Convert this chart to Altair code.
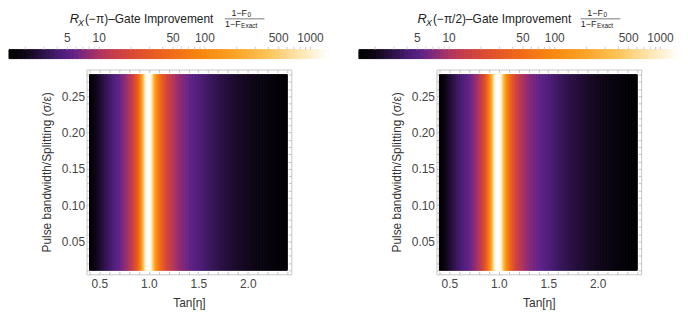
import altair as alt
import pandas as pd
import numpy as np

FONT = "Liberation Sans"

# ---- data ----
tan_left = [0.40, 0.42, 0.44, 0.46, 0.48, 0.50, 0.52, 0.54, 0.56, 0.58, 0.60, 0.62, 0.64, 0.66,
            0.68, 0.70, 0.72, 0.74, 0.76, 0.78, 0.80, 0.82, 0.84, 0.85, 0.86, 0.87, 0.88, 0.89,
            0.90, 0.91, 0.92, 0.93, 0.94, 0.95, 0.96, 0.97, 0.98, 0.99, 1.00, 1.01, 1.02, 1.03,
            1.04, 1.05, 1.06, 1.07, 1.08, 1.09, 1.10, 1.11, 1.12, 1.13, 1.14, 1.15, 1.16, 1.18,
            1.20, 1.22, 1.24, 1.26, 1.28, 1.30, 1.33, 1.36, 1.39, 1.42, 1.45, 1.48, 1.51, 1.54,
            1.57, 1.60, 1.63, 1.66, 1.69, 1.72, 1.75, 1.78, 1.81, 1.84, 1.87, 1.90, 1.93, 1.96,
            1.99, 2.02, 2.05, 2.08, 2.11, 2.14, 2.17, 2.20, 2.23, 2.26, 2.29, 2.32, 2.35, 2.38,
            2.40]
imp_left = [1.50, 1.65, 1.80, 1.97, 2.17, 2.40, 2.63, 2.88, 3.14, 3.42, 3.70, 4.04, 4.40, 4.78,
            5.18, 5.60, 6.20, 6.85, 7.60, 8.60, 10.0, 12.0, 15.0, 17, 20, 25, 30, 37,
            45, 62, 90, 150, 250, 420, 700, 1050, 1400, 1500, 1500, 1500, 1300, 950,
            600, 380, 250, 170, 120, 90, 70, 58, 48, 40, 33, 28, 25, 20,
            16, 14, 12, 10.5, 9.4, 8.5, 7.6, 6.9, 6.3, 5.7, 5.2, 4.85, 4.5, 4.2,
            3.95, 3.7, 3.5, 3.32, 3.16, 3.02, 2.9, 2.78, 2.66, 2.55, 2.44, 2.35, 2.28, 2.2,
            2.13, 2.06, 2.0, 1.94, 1.88, 1.83, 1.78, 1.73, 1.69, 1.65, 1.62, 1.58, 1.55, 1.52,
            1.50]

tan_right = tan_left
imp_right = [1.40, 1.55, 1.72, 1.92, 2.15, 2.40, 2.65, 2.92, 3.20, 3.50, 3.80, 4.12, 4.45, 4.80,
             5.20, 5.60, 6.20, 6.90, 7.70, 8.80, 10.5, 13, 17, 20, 24, 30, 38, 50,
             68, 95, 140, 220, 360, 600, 950, 1300, 1500, 1500, 1500, 1500, 1300, 950,
             620, 400, 260, 180, 125, 92, 70, 55, 44, 36, 30, 25.5, 22, 17,
             14, 12, 10.5, 9.4, 8.5, 7.8, 7.0, 6.5, 6.0, 5.6, 5.2, 4.85, 4.5, 4.2,
             3.95, 3.7, 3.5, 3.32, 3.16, 3.02, 2.9, 2.78, 2.66, 2.55, 2.44, 2.35, 2.27, 2.19,
             2.12, 2.05, 1.98, 1.92, 1.86, 1.80, 1.75, 1.70, 1.65, 1.61, 1.57, 1.53, 1.50, 1.47,
             1.45]

sigma_range = [0.01, 0.28]

titles = ["(\u2212\u03c0)\u2013Gate Improvement", "(\u2212\u03c0/2)\u2013Gate Improvement"]

cbar_stops = [1.4, 2.0, 3.0, 4.2, 5.5, 7.5, 10, 14, 22, 35, 60, 100, 200, 400, 700, 1000, 1500]
cbar_colors = ["#000000", "#0e0616", "#2c1248", "#4a1c74", "#5e2288", "#882a78", "#ac3462",
               "#c63e4a", "#dc4c32", "#ea5e20", "#f47416", "#f88a10", "#fba428", "#fcc458",
               "#fde0a0", "#feefcc", "#ffffff"]
cbar_ticks = [2, 3, 4, 5, 6, 7, 8, 9, 10, 20, 30, 40, 50, 60, 70, 80, 90, 100,
              200, 300, 400, 500, 600, 700, 800, 900, 1000]
cbar_labels = [5, 10, 50, 100, 500, 1000]

x_ticks = [round(0.4 + 0.1 * i, 1) for i in range(21)]
y_ticks = [round(0.01 * i, 2) for i in range(1, 29)]

W, H = 206, 206
X_DOMAIN = [0.37, 2.44]
Y_DOMAIN = [0.0045, 0.287]
CB_LEFT, CB_RIGHT = -78, 244
CB_TOP, CB_BOT = -20, -11
TXT = "#222222"


def edges(xs):
    mids = [(a + b) / 2 for a, b in zip(xs[:-1], xs[1:])]
    return [xs[0]] + mids, mids + [xs[-1]]


def cscale():
    return alt.Scale(type="log", domain=cbar_stops, range=cbar_colors,
                     interpolate="rgb", clamp=True)


def cbx():
    return alt.Scale(type="log", domain=[cbar_stops[0], cbar_stops[-1]],
                     range=[CB_LEFT, CB_RIGHT], nice=False)


def txt(s, x, y, size, italic=False, align="left"):
    return alt.Chart(pd.DataFrame({"t": [s]})).mark_text(
        align=align, baseline="middle", fontSize=size, font=FONT,
        fontStyle="italic" if italic else "normal", color=TXT
    ).encode(text="t:N", x=alt.value(x), y=alt.value(y))


def panel(tans, imps, title_rest, title_x, frac_cx):
    lo, hi = edges(tans)
    df = pd.DataFrame({"x0": lo, "x1": hi, "v": imps,
                       "y0": sigma_range[0], "y1": sigma_range[1]})
    xs = alt.Scale(domain=X_DOMAIN, nice=False, zero=False)
    ys = alt.Scale(domain=Y_DOMAIN, nice=False, zero=False)

    heat = alt.Chart(df).mark_rect(strokeWidth=1.0).encode(
        x=alt.X("x0:Q", scale=xs, axis=alt.Axis(
            orient="bottom", values=x_ticks, format=".1f",
            labelExpr="round(datum.value*10) % 5 == 0 ? datum.label : ''",
            title="Tan[\u03b7]", offset=-3, tickSize=3, domain=False, grid=False,
            labelPadding=4, titlePadding=8)),
        x2="x1:Q",
        y=alt.Y("y0:Q", scale=ys, axis=alt.Axis(
            orient="left", values=y_ticks, format=".2f",
            labelExpr="round(datum.value*100) % 5 == 0 ? datum.label : ''",
            title="Pulse bandwidth/Splitting (\u03c3/\u03b5)", offset=-3, tickSize=3,
            domain=False, grid=False, labelPadding=2, titlePadding=8)),
        y2="y1:Q",
        color=alt.Color("v:Q", scale=cscale(), legend=None),
        stroke=alt.Stroke("v:Q", scale=cscale(), legend=None),
    )

    frame = alt.Chart(df).mark_rect(opacity=0).encode(
        x=alt.X("x0:Q", scale=xs, axis=alt.Axis(
            orient="top", values=x_ticks, labels=False, title=None, offset=-3,
            tickSize=3, domain=False, grid=False)),
        x2="x1:Q",
        y=alt.Y("y0:Q", scale=ys, axis=alt.Axis(
            orient="right", values=y_ticks, labels=False, title=None, offset=-3,
            tickSize=3, domain=False, grid=False)),
        y2="y1:Q",
    )

    cb = np.geomspace(cbar_stops[0], cbar_stops[-1], 241)
    cdf = pd.DataFrame({"c0": cb[:-1], "c1": cb[1:], "c": np.sqrt(cb[:-1] * cb[1:])})
    cbar = alt.Chart(cdf).mark_rect(strokeWidth=1.0).encode(
        x=alt.X("c0:Q", scale=cbx(), axis=None),
        x2="c1:Q",
        y=alt.value(CB_TOP), y2=alt.value(CB_BOT),
        color=alt.Color("c:Q", scale=cscale(), legend=None),
        stroke=alt.Stroke("c:Q", scale=cscale(), legend=None),
    )
    cticks = alt.Chart(pd.DataFrame({"tk": cbar_ticks})).mark_rule(
        color="#c0c0c0", strokeWidth=0.8).encode(
        x=alt.X("tk:Q", scale=cbx(), axis=None),
        y=alt.value(CB_TOP - 3), y2=alt.value(CB_TOP))
    clabels = alt.Chart(pd.DataFrame({"lab": cbar_labels})).mark_text(
        font=FONT, fontSize=12, color="#444444", baseline="middle").encode(
        x=alt.X("lab:Q", scale=cbx(), axis=None),
        y=alt.value(CB_TOP - 12),
        text=alt.Text("lab:Q", format="d"))

    ty = -51
    texts = [
        txt("R", title_x, ty, 13, italic=True),
        txt("X", title_x + 8.5, ty + 4, 9, italic=True),
        txt(title_rest, title_x + 15.5, ty, 12),
        txt("1\u2212F", frac_cx + 2.5, ty - 5.5, 9, align="right"),
        txt("0", frac_cx + 3, ty - 4, 6.5),
        txt("1\u2212F", frac_cx - 4, ty + 5.5, 9, align="right"),
        txt("Exact", frac_cx - 3.5, ty + 7, 6.5),
    ]
    rule = alt.Chart(pd.DataFrame({"a": [0]})).mark_rule(color=TXT, strokeWidth=0.6).encode(
        x=alt.value(frac_cx - 20), x2=alt.value(frac_cx + 20), y=alt.value(ty))

    return alt.layer(heat, frame, cbar, cticks, clabels, rule, *texts).resolve_scale(
        x="independent", y="independent", color="independent", stroke="independent"
    ).resolve_axis(x="independent", y="independent").properties(width=W, height=H)


left = panel(tan_left, imp_left, titles[0], -17, 159)
right = panel(tan_right, imp_right, titles[1], -19, 165)

chart = alt.hconcat(left, right, spacing=28).properties(
    padding={"left": 0, "top": 0, "right": 0, "bottom": 0}
).configure_view(stroke="#c8c8c8", strokeWidth=1).configure_axis(
    labelFont=FONT, titleFont=FONT, labelFontSize=12, titleFontSize=12,
    labelColor="#444444", titleColor="#333333", titleFontWeight="normal",
    tickColor="#b4b4b4", tickWidth=0.8
)

chart.save("out.html", embed_options={"renderer": "svg", "actions": False})
